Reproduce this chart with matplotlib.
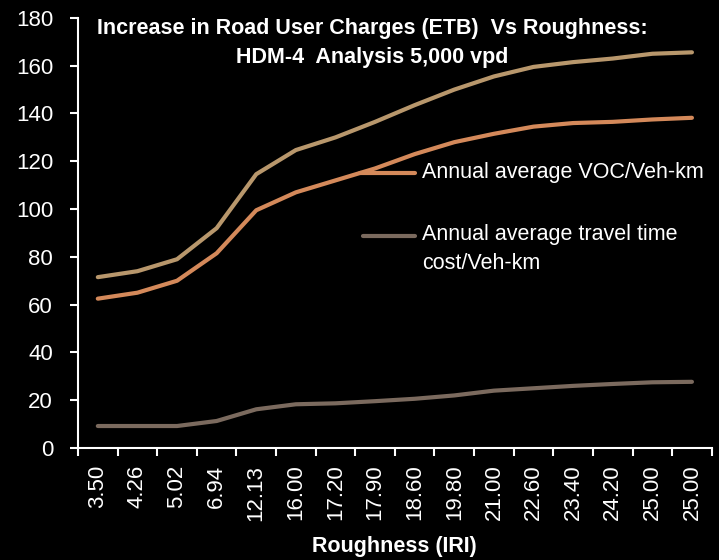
import matplotlib
matplotlib.use('Agg')
import matplotlib.pyplot as plt
from matplotlib import font_manager

# categories (IRI) and series
iri_labels = ['3.50', '4.26', '5.02', '6.94', '12.13', '16.00', '17.20', '17.90',
              '18.60', '19.80', '21.00', '22.60', '23.40', '24.20', '25.00', '25.00']
voc = [62.5, 65, 70, 81.5, 99.5, 107, 112, 117, 123, 128, 131.5, 134.5, 136, 136.5, 137.5, 138.2]
travel_time = [9.2, 9.2, 9.2, 11.3, 16.2, 18.3, 18.7, 19.6, 20.6, 22, 24, 25, 26, 26.8, 27.5, 27.7]
total = [71.5, 74, 79, 92, 114.6, 124.7, 130, 136.5, 143.5, 150, 155.5, 159.5, 161.5, 163, 165, 165.6]

C_TOTAL = '#B8976C'
C_VOC = '#D4895A'
C_TT = '#7B6A5E'

names = {f.name for f in font_manager.fontManager.ttflist}
narrow = 'Liberation Sans Narrow' in names
plt.rcParams['font.family'] = 'Liberation Sans Narrow' if narrow else 'Liberation Sans'
FS = 17 if narrow else 15.5

fig = plt.figure(figsize=(7.19, 5.6), dpi=100, facecolor='black')
ax = fig.add_axes([0.1085, 0.2, 0.8814, 0.768], facecolor='black')

x = list(range(len(iri_labels)))
ax.plot(x, total, color=C_TOTAL, lw=3, solid_capstyle='round', solid_joinstyle='round')
ax.plot(x, voc, color=C_VOC, lw=3, solid_capstyle='round', solid_joinstyle='round')
ax.plot(x, travel_time, color=C_TT, lw=3, solid_capstyle='round', solid_joinstyle='round')

ax.set_xlim(-0.5, len(iri_labels) - 0.5)
ax.set_ylim(0, 180)
ax.set_yticks(range(0, 181, 20))

# boundary ticks as majors, labels at category centres as minors
ax.set_xticks([i - 0.5 for i in range(len(iri_labels) + 1)])
ax.set_xticklabels([])
ax.set_xticks(x, minor=True)
ax.set_xticklabels(iri_labels, minor=True, rotation=90, fontsize=FS + 0.5, color='white')
ax.tick_params(axis='x', which='major', length=6, width=1.5, color='white', direction='out')
ax.tick_params(axis='x', which='minor', length=0, pad=12)
ax.tick_params(axis='y', length=6, width=1.5, color='white', labelcolor='white',
               labelsize=FS + 0.5, pad=12)

for s in ['top', 'right']:
    ax.spines[s].set_visible(False)
for s in ['left', 'bottom']:
    ax.spines[s].set_color('white')
    ax.spines[s].set_linewidth(1.5)

ax.set_xlabel('Roughness (IRI)', color='white', fontsize=FS, fontweight='bold', labelpad=11)

ax.text(0.464, 1.0, 'Increase in Road User Charges (ETB)  Vs Roughness:\nHDM-4  Analysis 5,000 vpd',
        transform=ax.transAxes, ha='center', va='top', color='white', fontsize=FS,
        fontweight='bold', linespacing=1.5)

# legend, drawn by hand so the handle sits on the first text line
ax.plot([0.445, 0.532], [0.6395, 0.6395], transform=ax.transAxes, color=C_VOC, lw=3,
        solid_capstyle='round', clip_on=False)
ax.text(0.543, 0.6395, 'Annual average VOC/Veh-km', transform=ax.transAxes,
        ha='left', va='center', color='white', fontsize=FS)
ax.plot([0.45, 0.532], [0.493, 0.493], transform=ax.transAxes, color=C_TT, lw=3,
        solid_capstyle='round', clip_on=False)
ax.text(0.543, 0.52, 'Annual average travel time\ncost/Veh-km', transform=ax.transAxes,
        ha='left', va='top', color='white', fontsize=FS, linespacing=1.5)

fig.savefig('out.png', dpi=100, facecolor='black')
